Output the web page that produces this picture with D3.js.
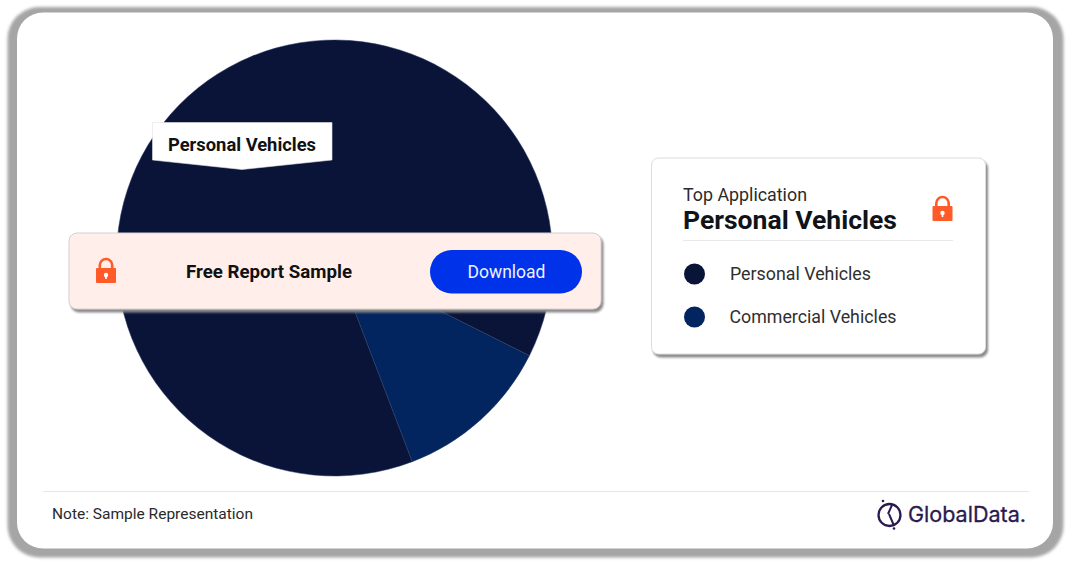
<!DOCTYPE html>
<html><head><meta charset="utf-8">
<script src="https://cdn.jsdelivr.net/npm/d3@7/dist/d3.min.js"></script>
<style>html,body{margin:0;padding:0;background:#fff}svg{display:block}text{font-family:Roboto,"Noto Sans",sans-serif}</style>
</head><body><svg id="c" width="1070" height="561"></svg>
<script>
const categories = ["Personal Vehicles", "Commercial Vehicles"];
const shares = [88.2, 11.8];
const colors = ["#0a1439", "#02255f"];
const title = "Top Application";
const topCategory = "Personal Vehicles";
const note = "Note: Sample Representation";

const svg = d3.select("#c");
const defs = svg.append("defs");
function shadow(id, dx, dy, blur, col){
  const f = defs.append("filter").attr("id", id).attr("x","-10%").attr("y","-10%").attr("width","120%").attr("height","125%");
  f.append("feDropShadow").attr("dx",dx).attr("dy",dy).attr("stdDeviation",blur).attr("flood-color",col);
}
shadow("card", 2, 3, 1.3, "#8a8a8a");
defs.append("filter").attr("id","blur").attr("x","-5%").attr("y","-5%").attr("width","110%").attr("height","110%")
  .append("feGaussianBlur").attr("stdDeviation",1.8);

// frame
svg.append("rect").attr("x",7.5).attr("y",7).attr("width",1056).attr("height",550.5).attr("rx",32)
  .attr("fill","#a5a5a5").attr("filter","url(#blur)");
svg.append("rect").attr("x",17).attr("y",12.5).attr("width",1036).attr("height",536).attr("rx",26).attr("fill","#fff");

// pie
const cx = 334.5, cy = 258, R = 218;
const color = d3.scaleOrdinal().domain(categories).range(colors);
const start = 159.1 * Math.PI / 180;
const pie = d3.pie().value((d,i)=>shares[i]).sort(null).startAngle(start).endAngle(start + 2*Math.PI);
const arc = d3.arc().innerRadius(0).outerRadius(R);
svg.append("g").attr("transform",`translate(${cx},${cy})`)
  .selectAll("path").data(pie(categories)).join("path")
  .attr("d",arc).attr("fill",d=>color(d.data)).attr("stroke","#2b3a63").attr("stroke-width",0.5);

function txt(s,x,y,size,weight,fill,anchor,len){
  const t = svg.append("text").attr("x",x).attr("y",y).attr("font-size",size).attr("font-weight",weight)
    .attr("fill",fill).attr("text-anchor",anchor||"start").text(s);
  if(len) t.attr("textLength",len).attr("lengthAdjust","spacingAndGlyphs");
  return t;
}
function lock(x,y){ // x,y = top-left of 20x25 icon
  const g = svg.append("g").attr("transform",`translate(${x},${y})`);
  g.append("path").attr("d","M3.8 11V7.2a6.2 6.2 0 0 1 12.4 0V11").attr("fill","none").attr("stroke","#ff5a28").attr("stroke-width",2.6);
  g.append("rect").attr("x",0).attr("y",10).attr("width",20).attr("height",15).attr("rx",1).attr("fill","#ff5a28");
  g.append("circle").attr("cx",10).attr("cy",17).attr("r",2.2).attr("fill","#fff");
  g.append("rect").attr("x",9.2).attr("y",17).attr("width",1.6).attr("height",4).attr("fill","#fff");
}

// callout label
svg.append("polygon").attr("points","152.5,122.5 332,122.5 332,160 242,169.5 152.5,160").attr("fill","#fff").attr("stroke","#e2e2e2").attr("stroke-width",0.6);
txt(topCategory,168,150.5,18.5,700,"#111","start",148);

// banner
svg.append("rect").attr("x",69).attr("y",233).attr("width",532).attr("height",76).attr("rx",8)
  .attr("fill","#ffeeea").attr("stroke","#d5d0ce").attr("stroke-width",1).attr("filter","url(#card)");
lock(96,258);
txt("Free Report Sample",186,277.5,17.5,700,"#111","start",166);
svg.append("rect").attr("x",430).attr("y",250).attr("width",152).attr("height",43.5).attr("rx",21.7).attr("fill","#0032ea");
txt("Download",506.5,278,18,400,"#eef1ff","middle",78);

// legend card
svg.append("rect").attr("x",651.5).attr("y",158).attr("width",334).attr("height",196).attr("rx",7)
  .attr("fill","#fff").attr("stroke","#dcdcdc").attr("stroke-width",1).attr("filter","url(#card)");
txt(title,683,200.5,17.5,400,"#2b2b2b","start",124);
txt(topCategory,683,229,26.5,700,"#101418","start",214);
svg.append("line").attr("x1",683).attr("x2",953).attr("y1",240.5).attr("y2",240.5).attr("stroke","#e8e8e8");
lock(932.5,196);
const rowY = d3.scalePoint().domain(categories).range([274,317]);
const lenL = [141,167], xL = [730,729.5];
const rows = svg.append("g");
categories.forEach((c,i)=>{
  rows.append("circle").attr("cx",694.5).attr("cy",rowY(c)).attr("r",10.5).attr("fill",color(c));
  txt(c,xL[i],rowY(c)+6.3,18,400,"#2f2f2f","start",lenL[i]);
});

// footer
svg.append("line").attr("x1",43).attr("x2",1029).attr("y1",491.5).attr("y2",491.5).attr("stroke","#e6e6e6");
txt(note,52,518.5,15.5,400,"#2a2a2a","start",201);

// logo
const ink = "#2a1a50";
const lg = svg.append("g").attr("transform","translate(889.5,515)").attr("fill","none").attr("stroke",ink).attr("stroke-width",2.3);
lg.append("circle").attr("r",11);
lg.append("path").attr("d","M-5 -10L-1.5 -1").attr("stroke","#fff").attr("stroke-width",0);
lg.append("path").attr("d","M2.5 -10L-1.5 -1").attr("stroke-width",2);
lg.append("path").attr("d","M-0.5 -1L4 9.5").attr("stroke-width",2);
lg.append("circle").attr("cx",-6.5).attr("cy",-14).attr("r",1.3).attr("fill",ink).attr("stroke","none");
lg.append("circle").attr("cx",4.5).attr("cy",13.5).attr("r",1.3).attr("fill",ink).attr("stroke","none");
svg.append("text").attr("x",908).attr("y",522).attr("font-size",21.5).attr("font-weight",400).attr("fill",ink)
  .style("font-family","Inter, Lato, sans-serif").attr("stroke",ink).attr("stroke-width",0.3)
  .attr("textLength",118).attr("lengthAdjust","spacingAndGlyphs").text("GlobalData.");
</script></body></html>
